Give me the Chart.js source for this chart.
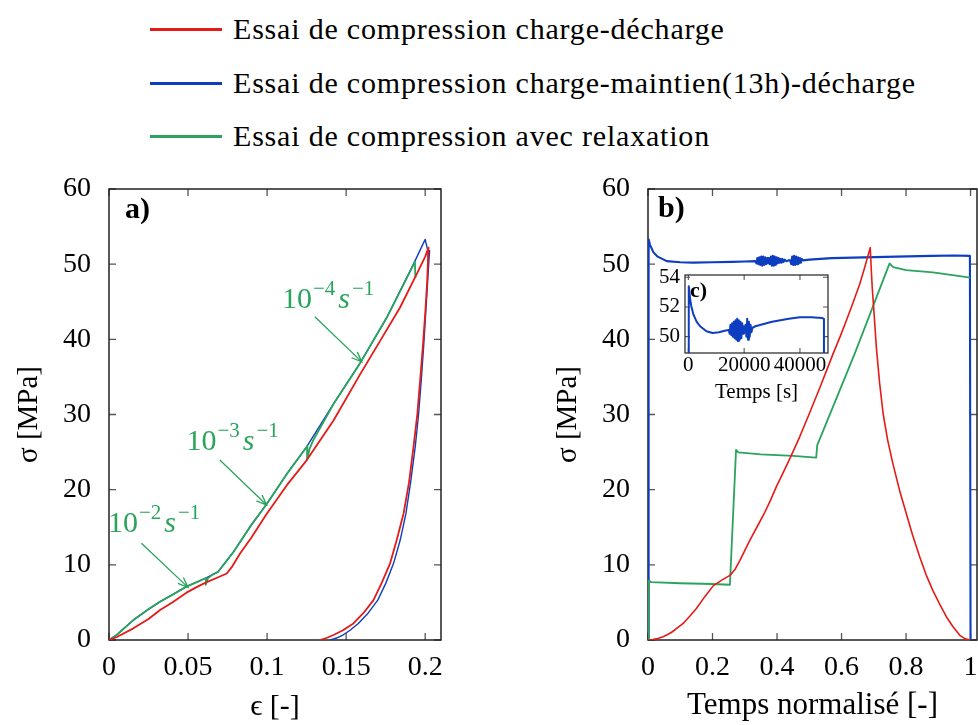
<!DOCTYPE html>
<html>
<head>
<meta charset="utf-8">
<script src="https://cdn.jsdelivr.net/npm/chart.js@4.4.1/dist/chart.umd.min.js"></script>
<style>
html,body{margin:0;padding:0;width:978px;height:725px;overflow:hidden;background:#ffffff;}
canvas{position:absolute;display:block;}
.leg{position:absolute;left:150px;height:30px;width:800px;}
.leg .ln{position:absolute;left:0;top:14px;width:72px;height:2.5px;}
.leg .tx{position:absolute;left:83px;top:0;white-space:nowrap;font-family:'Liberation Serif','Times New Roman','DejaVu Serif',serif;font-size:30px;line-height:30px;letter-spacing:0.8px;color:#000;}
</style>
</head>
<body>
<div id="legend"></div>
<canvas id="chartA" width="480" height="557" style="left:0px;top:168px"></canvas>
<canvas id="chartB" width="460" height="557" style="left:540px;top:168px"></canvas>
<canvas id="chartC" width="215" height="145" style="left:640px;top:262px"></canvas>
<script>
// ---------------- data ----------------
const seriesNames = [
  'Essai de compression charge-décharge',
  'Essai de compression charge-maintien(13h)-décharge',
  'Essai de compression avec relaxation'
];
const seriesColors = ['#e41b17', '#0d3ec2', '#2aa45c'];

// panel a) : strain / stress
const aRedEps = [0, 0.005, 0.0154, 0.025, 0.0323, 0.04, 0.049, 0.056, 0.0618, 0.068, 0.0745, 0.078, 0.0829, 0.09, 0.0998, 0.1125, 0.125, 0.142, 0.159, 0.1715, 0.184, 0.1947, 0.2, 0.2021, 0.2012, 0.2, 0.1985, 0.1968, 0.195, 0.1926, 0.1898, 0.1863, 0.182, 0.1778, 0.1725, 0.1673, 0.161, 0.1546, 0.148, 0.142, 0.138, 0.1335];
const aRedSig = [0, 0.4, 1.55, 2.8, 4.0, 5.0, 6.3, 7.1, 7.7, 8.25, 8.85, 9.8, 11.5, 13.6, 16.8, 20.6, 23.9, 29.2, 35.4, 39.8, 44.2, 48.7, 51.0, 52.2, 47.5, 43.4, 39.0, 34.5, 30.0, 25.7, 21.0, 16.8, 13.3, 10.2, 7.6, 5.3, 3.6, 2.2, 1.3, 0.66, 0.3, 0];

const aBlueEps = [0, 0.005, 0.0154, 0.025, 0.0323, 0.04, 0.049, 0.0555, 0.0618, 0.069, 0.0735, 0.0787, 0.09, 0.0998, 0.1125, 0.125, 0.142, 0.159, 0.1757, 0.1926, 0.2, 0.2012, 0.2022, 0.2019, 0.2028, 0.2021, 0.2027, 0.2022, 0.2026, 0.2025, 0.2015, 0.2003, 0.199, 0.1975, 0.1958, 0.1937, 0.1908, 0.1878, 0.1842, 0.18, 0.1752, 0.17, 0.164, 0.1577, 0.1525, 0.148, 0.1445, 0.1399];
const aBlueSig = [0, 0.7, 2.65, 4.1, 5.1, 6.0, 7.1, 7.7, 8.3, 9.07, 10.3, 11.7, 15.3, 18.1, 22.1, 25.7, 31.4, 36.9, 42.9, 50.0, 53.3, 52.2, 51.4, 50.3, 51.8, 50.5, 51.5, 50.2, 51.2, 51.0, 47.5, 43.4, 39.0, 34.5, 30.0, 25.7, 21.0, 16.8, 13.3, 10.2, 7.6, 5.3, 3.6, 2.2, 1.3, 0.66, 0.3, 0];

const aGreenEps = [0, 0.005, 0.0154, 0.025, 0.0323, 0.04, 0.049, 0.0555, 0.0614, 0.0612, 0.0625, 0.0655, 0.069, 0.0735, 0.0787, 0.09, 0.0998, 0.1125, 0.1255, 0.1253, 0.127, 0.129, 0.142, 0.159, 0.1757, 0.1935, 0.1938];
const aGreenSig = [0, 0.7, 2.65, 4.1, 5.1, 6.0, 7.1, 7.7, 8.25, 7.35, 8.2, 8.7, 9.07, 10.3, 11.7, 15.3, 18.1, 22.1, 25.8, 24.0, 25.5, 26.5, 31.4, 36.9, 42.9, 50.3, 48.2];

// panel b) : normalised time / stress
const bRedT = [0, 0.015, 0.03, 0.045, 0.058, 0.072, 0.085, 0.097, 0.109, 0.13, 0.15, 0.175, 0.202, 0.23, 0.254, 0.27, 0.285, 0.3, 0.316, 0.34, 0.36, 0.38, 0.398, 0.415, 0.435, 0.45, 0.47, 0.5, 0.533, 0.555, 0.574, 0.595, 0.615, 0.635, 0.656, 0.672, 0.689,
  0.692, 0.695, 0.7, 0.708, 0.718, 0.729, 0.743, 0.759, 0.78, 0.801, 0.82, 0.842, 0.862, 0.883, 0.905, 0.925, 0.945, 0.966, 0.983, 1.0];
const bRedSig = [0, 0.05, 0.2, 0.4, 0.66, 1.0, 1.4, 1.8, 2.2, 3.2, 4.2, 5.7, 7.2, 8.0, 8.6, 9.4, 10.6, 11.9, 13.3, 15.2, 16.8, 18.6, 20.4, 21.9, 23.7, 25.1, 27.0, 30.1, 33.6, 36.0, 38.1, 40.3, 42.5, 44.8, 47.3, 49.6, 52.2,
  49.5, 47.0, 44.0, 38.9, 34.2, 30.1, 26.6, 23.5, 19.9, 16.8, 14.0, 11.1, 8.7, 6.6, 4.7, 3.1, 1.8, 0.66, 0.15, 0];

const bBlueT = [0, 0.002, 0.006, 0.0165, 0.03, 0.058, 0.1, 0.14, 0.2, 0.26, 0.3, 0.333,
  0.336, 0.339, 0.342, 0.345, 0.348, 0.351, 0.354, 0.357, 0.36, 0.363, 0.366, 0.369, 0.372, 0.375, 0.378, 0.381, 0.384, 0.387, 0.39, 0.393, 0.396, 0.399, 0.402, 0.405, 0.408, 0.411, 0.414, 0.417, 0.42, 0.424, 0.428,
  0.435, 0.441, 0.444, 0.447, 0.45, 0.453, 0.456, 0.459, 0.462, 0.465, 0.468, 0.471, 0.474, 0.477, 0.481,
  0.5, 0.57, 0.67, 0.77, 0.88, 0.95, 0.998, 1.0];
const bBlueSig = [0, 53.3, 52.6, 51.6, 51.0, 50.4, 50.25, 50.2, 50.25, 50.3, 50.35, 50.4,
  50.1, 50.8, 50.0, 50.9, 49.9, 51.0, 49.8, 51.0, 49.9, 50.9, 50.0, 50.8, 50.1, 50.8, 50.0, 51.0, 49.8, 51.1, 49.8, 51.0, 49.9, 50.9, 50.1, 50.8, 50.2, 50.7, 50.2, 50.7, 50.3, 50.6, 50.4,
  50.5, 50.5, 50.0, 51.0, 49.9, 51.1, 49.9, 51.0, 50.0, 50.9, 50.1, 50.8, 50.2, 50.7, 50.5,
  50.6, 50.8, 50.9, 51.0, 51.1, 51.15, 51.1, 0];

const bGreenT = [0, 0.002, 0.01, 0.1, 0.2, 0.254, 0.273, 0.28, 0.35, 0.45, 0.5215, 0.5245, 0.64, 0.749, 0.76, 0.8, 0.883, 0.95, 0.999];
const bGreenSig = [0, 7.9, 7.7, 7.55, 7.45, 7.35, 25.3, 24.95, 24.7, 24.5, 24.25, 25.9, 38.0, 50.1, 49.6, 49.2, 48.9, 48.5, 48.2];

// inset c) : time in seconds / stress during the 13h hold
const cTime = [0, 150, 400, 600, 1000, 1800, 3000, 4200, 6500, 8700, 11000, 13000, 14500,
  14800, 15100, 15400, 15700, 16000, 16300, 16600, 16900, 17200, 17500, 17800, 18100, 18400, 18700, 19000, 19300, 19600, 19900, 20200, 20500, 20800, 21100, 21400, 21700, 22000, 22300, 22600, 23000,
  24000, 26000, 28000, 30000, 33000, 36000, 40000, 44000, 48000, 48600, 48700];
const cSig = [0, 53.4, 53.0, 52.6, 52.1, 51.5, 51.0, 50.7, 50.36, 50.25, 50.3, 50.4, 50.45,
  50.2, 50.8, 50.1, 50.9, 50.0, 51.0, 49.9, 51.1, 49.8, 51.2, 49.7, 51.1, 49.8, 51.0, 49.9, 50.9, 50.2, 50.7, 50.3, 50.8, 50.0, 51.2, 49.8, 51.0, 50.0, 50.8, 50.3, 50.6,
  50.7, 50.8, 50.9, 51.0, 51.1, 51.2, 51.3, 51.3, 51.25, 51.2, 0];

// ticks
const aXTicks = [0, 0.05, 0.1, 0.15, 0.2];
const aXLabels = ['0', '0.05', '0.1', '0.15', '0.2'];
const sigTicks = [0, 10, 20, 30, 40, 50, 60];
const sigLabels = ['0', '10', '20', '30', '40', '50', '60'];
const bXTicks = [0, 0.2, 0.4, 0.6, 0.8, 1];
const bXLabels = ['0', '0.2', '0.4', '0.6', '0.8', '1'];
const cXTicks = [0, 20000, 40000];
const cXLabels = ['0', '20000', '40000'];
const cYTicks = [50, 52, 54];
const cYLabels = ['50', '52', '54'];

// strain-rate annotations (exponent of the rate)
const rateExponents = ['−2', '−3', '−4'];

// ---------------- legend ----------------
const legend = document.getElementById('legend');
const legendTops = [14, 68, 121];
seriesNames.forEach((name, i) => {
  const row = document.createElement('div');
  row.className = 'leg';
  row.style.top = legendTops[i] + 'px';
  const ln = document.createElement('div');
  ln.className = 'ln';
  ln.style.background = seriesColors[i];
  const tx = document.createElement('div');
  tx.className = 'tx';
  tx.textContent = name;
  row.appendChild(ln); row.appendChild(tx);
  legend.appendChild(row);
});

// ---------------- helpers ----------------
const FONT = "'Liberation Serif', 'Times New Roman', 'DejaVu Serif', serif";
const pts = (xs, ys) => xs.map((x, i) => ({x: x, y: ys[i]}));

const framePlugin = {
  id: 'frame',
  beforeDatasetsDraw(chart, args, o) {
    const {ctx, chartArea: a, scales} = chart;
    ctx.save();
    ctx.strokeStyle = o.tickColor;
    ctx.lineWidth = o.tickWidth;
    ctx.beginPath();
    scales.x.ticks.forEach(t => {
      const p = scales.x.getPixelForValue(t.value);
      ctx.moveTo(p, a.bottom); ctx.lineTo(p, a.bottom - o.tickLen);
      ctx.moveTo(p, a.top); ctx.lineTo(p, a.top + o.tickLen);
    });
    scales.y.ticks.forEach(t => {
      const p = scales.y.getPixelForValue(t.value);
      ctx.moveTo(a.left, p); ctx.lineTo(a.left + o.tickLen, p);
      ctx.moveTo(a.right, p); ctx.lineTo(a.right - o.tickLen, p);
    });
    ctx.stroke();
    ctx.strokeStyle = o.color;
    ctx.lineWidth = o.width;
    ctx.strokeRect(a.left, a.top, a.right - a.left, a.bottom - a.top);
    ctx.fillStyle = '#000';
    ctx.font = 'bold ' + o.labelSize + 'px ' + FONT;
    ctx.textBaseline = 'alphabetic';
    ctx.textAlign = 'left';
    ctx.fillText(o.label, a.left + o.lx, a.top + o.ly);
    ctx.restore();
  }
};

const ratePlugin = {
  id: 'rates',
  afterDatasetsDraw(chart, args, o) {
    const {ctx, scales: {x, y}} = chart;
    ctx.save();
    ctx.fillStyle = o.color;
    ctx.strokeStyle = o.color;
    ctx.lineWidth = 1.3;
    ctx.textBaseline = 'alphabetic';
    ctx.textAlign = 'left';
    o.notes.forEach((n, i) => {
      let px = x.getPixelForValue(n.textAt[0]);
      const py = y.getPixelForValue(n.textAt[1]);
      ctx.font = '30px ' + FONT;
      ctx.fillText('10', px, py); px += ctx.measureText('10').width + 1;
      ctx.font = '21px ' + FONT;
      ctx.fillText(rateExponents[i], px, py - 13); px += ctx.measureText(rateExponents[i]).width + 3;
      ctx.font = 'italic 30px ' + FONT;
      ctx.fillText('s', px, py); px += ctx.measureText('s').width + 2;
      ctx.font = '21px ' + FONT;
      ctx.fillText('−1', px, py - 13);
      const x0 = x.getPixelForValue(n.tail[0]), y0 = y.getPixelForValue(n.tail[1]);
      const x1 = x.getPixelForValue(n.tip[0]), y1 = y.getPixelForValue(n.tip[1]);
      const ang = Math.atan2(y1 - y0, x1 - x0), L = 11, w = 0.38;
      ctx.beginPath();
      ctx.moveTo(x0, y0); ctx.lineTo(x1, y1);
      ctx.moveTo(x1 - L * Math.cos(ang - w), y1 - L * Math.sin(ang - w));
      ctx.lineTo(x1, y1);
      ctx.lineTo(x1 - L * Math.cos(ang + w), y1 - L * Math.sin(ang + w));
      ctx.stroke();
    });
    ctx.restore();
  }
};

function axis(o) {
  return {
    type: 'linear',
    position: o.pos,
    min: o.min, max: o.max,
    afterBuildTicks: s => { s.ticks = o.ticks.map(v => ({value: v})); },
    afterFit: s => {
      if (o.pos === 'left') s.width = o.size; else s.height = o.size;
      s.paddingLeft = 0; s.paddingRight = 0; s.paddingTop = 0; s.paddingBottom = 0;
    },
    ticks: {
      callback: (v, i) => o.labels[i],
      font: {family: FONT, size: o.fontSize},
      color: '#000',
      padding: o.tickPad,
      maxRotation: 0, minRotation: 0, autoSkip: false
    },
    grid: {display: false, drawTicks: false},
    border: {display: false},
    title: o.title ? {
      display: true, text: o.title, color: '#000',
      font: {family: FONT, size: o.titleSize},
      padding: o.titlePad
    } : {display: false}
  };
}

function makeChart(id, c) {
  return new Chart(document.getElementById(id), {
    type: 'scatter',
    data: {
      datasets: c.series.map(s => ({
        data: pts(s.xs, s.ys),
        showLine: true,
        borderColor: s.color,
        backgroundColor: s.color,
        borderWidth: s.width,
        borderJoinStyle: 'round',
        pointRadius: 0, pointHoverRadius: 0,
        tension: 0, fill: false
      }))
    },
    options: {
      responsive: false, animation: false, events: [],
      layout: {padding: c.pad},
      plugins: {
        legend: {display: false},
        tooltip: {enabled: false},
        frame: c.frame,
        rates: c.rates || {}
      },
      scales: {x: c.x, y: c.y}
    },
    plugins: [framePlugin].concat(c.extra || [])
  });
}

// ---------------- panel a ----------------
makeChart('chartA', {
  series: [
    {xs: aRedEps, ys: aRedSig, color: seriesColors[0], width: 1.8},
    {xs: aGreenEps, ys: aGreenSig, color: seriesColors[2], width: 1.8},
    {xs: aBlueEps, ys: aBlueSig, color: seriesColors[1], width: 1.4}
  ],
  pad: {left: 0, top: 21, right: 39, bottom: 0},
  x: axis({pos: 'bottom', min: 0, max: 0.21, ticks: aXTicks, labels: aXLabels, size: 85, fontSize: 28, tickPad: 11,
           title: 'ϵ [-]', titleSize: 30, titlePad: {top: 0, bottom: 0}}),
  y: axis({pos: 'left', min: 0, max: 60, ticks: sigTicks, labels: sigLabels, size: 109, fontSize: 28, tickPad: 18,
           title: 'σ [MPa]', titleSize: 29, titlePad: {top: 12, bottom: 0}}),
  frame: {color: '#222', width: 1.5, tickColor: '#555', tickWidth: 1.3, tickLen: 7, label: 'a)', labelSize: 30, lx: 16, ly: 29},
  rates: {
    color: seriesColors[2],
    notes: [
      {textAt: [-0.0007, 14.41], tail: [0.0205, 12.86], tip: [0.05, 7.0]},
      {textAt: [0.049, 25.28], tail: [0.0701, 23.95], tip: [0.0997, 17.96]},
      {textAt: [0.1094, 44.17], tail: [0.1302, 43.0], tip: [0.1599, 37.0]}
    ]
  },
  extra: [ratePlugin]
});

// ---------------- panel b ----------------
makeChart('chartB', {
  series: [
    {xs: bRedT, ys: bRedSig, color: seriesColors[0], width: 1.6},
    {xs: bGreenT, ys: bGreenSig, color: seriesColors[2], width: 1.8},
    {xs: bBlueT, ys: bBlueSig, color: seriesColors[1], width: 2.1}
  ],
  pad: {left: 0, top: 21, right: 23, bottom: 0},
  x: axis({pos: 'bottom', min: 0, max: 1.02, ticks: bXTicks, labels: bXLabels, size: 85, fontSize: 28, tickPad: 11,
           title: 'Temps normalisé [-]', titleSize: 31, titlePad: {top: 0, bottom: 1}}),
  y: axis({pos: 'left', min: 0, max: 60, ticks: sigTicks, labels: sigLabels, size: 108, fontSize: 28, tickPad: 18,
           title: 'σ [MPa]', titleSize: 29, titlePad: {top: 11, bottom: 0}}),
  frame: {color: '#222', width: 1.5, tickColor: '#555', tickWidth: 1.3, tickLen: 7, label: 'b)', labelSize: 30, lx: 10, ly: 28}
});

// ---------------- inset c ----------------
makeChart('chartC', {
  series: [
    {xs: cTime, ys: cSig, color: seriesColors[1], width: 2.0}
  ],
  pad: {left: 0, top: 13, right: 27, bottom: 0},
  x: axis({pos: 'bottom', min: -1200, max: 50050, ticks: cXTicks, labels: cXLabels, size: 54, fontSize: 21, tickPad: 0,
           title: 'Temps [s]', titleSize: 21, titlePad: {top: 0, bottom: 2}}),
  y: axis({pos: 'left', min: 48.9, max: 54.15, ticks: cYTicks, labels: cYLabels, size: 45, fontSize: 21, tickPad: 5}),
  frame: {color: '#222', width: 1.2, tickColor: '#555', tickWidth: 1.1, tickLen: 5, label: 'c)', labelSize: 22, lx: 5, ly: 22}
});
</script>
</body>
</html>
